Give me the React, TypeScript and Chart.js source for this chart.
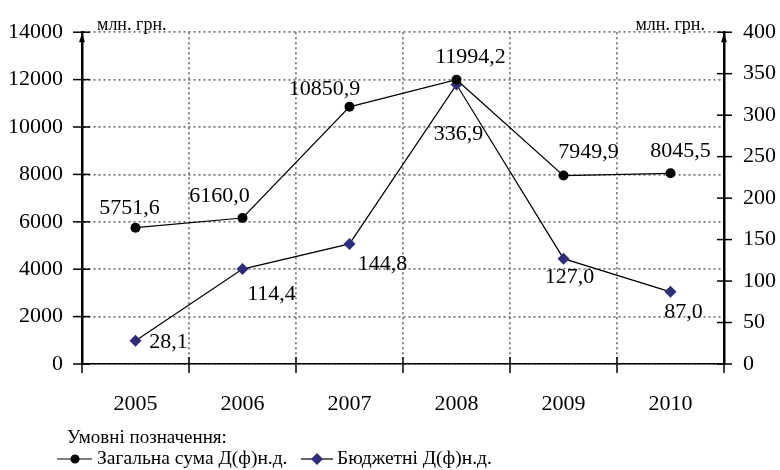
import React, { useEffect, useRef } from "react";
import { Chart, registerables } from "chart.js";

Chart.register(...registerables);

const years = ["2005", "2006", "2007", "2008", "2009", "2010"];
const totalValues = [5751.6, 6160.0, 10850.9, 11994.2, 7949.9, 8045.5];
const budgetValues = [28.1, 114.4, 144.8, 336.9, 127.0, 87.0];
const leftTicks = [0, 2000, 4000, 6000, 8000, 10000, 12000, 14000];
const rightTicks = [0, 50, 100, 150, 200, 250, 300, 350, 400];
const unitLabel = "млн. грн.";
const legendTitle = "Умовні позначення:";
const totalName = "Загальна сума Д(ф)н.д.";
const budgetName = "Бюджетні Д(ф)н.д.";

// label offsets (style): [dx, dy] relative to point
const totalLabelOffsets = [[-6, -19], [-23, -22], [-25, -18], [14, -23], [25, -23], [10, -22]];
const budgetLabelOffsets = [[33, 2], [29, 25], [33, 20], [2, 50], [6, 19], [13, 20]];

const SERIF = "'Liberation Serif', 'Times New Roman', serif";
const NAVY = "#2d2d7a";
const GRID = "#777777";
const fmt = (v: number) => v.toFixed(1).replace(".", ",");

export default function App() {
  const ref = useRef<HTMLCanvasElement | null>(null);
  useEffect(() => {
    const prevMargin = document.body.style.margin;
    document.body.style.margin = "0";
    const canvas = ref.current!;
    const overlay = {
      id: "overlay",
      afterDraw(chart: any) {
        const ctx = chart.ctx;
        const ca = chart.chartArea;
        const yL = chart.scales.y;
        const yR = chart.scales.y1;
        const x = chart.scales.x;
        ctx.save();
        ctx.strokeStyle = "#000";
        ctx.lineWidth = 1.5;
        leftTicks.forEach((t) => {
          const py = yL.getPixelForValue(t);
          ctx.beginPath();
          ctx.moveTo(ca.left - 9, py);
          ctx.lineTo(ca.left + 8, py);
          ctx.stroke();
        });
        rightTicks.forEach((t) => {
          const py = yR.getPixelForValue(t);
          ctx.beginPath();
          ctx.moveTo(ca.right - 7, py);
          ctx.lineTo(ca.right + 8, py);
          ctx.stroke();
        });
        const step = x.getPixelForValue(1) - x.getPixelForValue(0);
        for (let i = 0; i <= years.length; i++) {
          const px = x.getPixelForValue(0) - step / 2 + i * step;
          ctx.beginPath();
          ctx.moveTo(px, ca.bottom - 7);
          ctx.lineTo(px, ca.bottom + 9);
          ctx.stroke();
        }
        ctx.fillStyle = "#000";
        [ca.left, ca.right].forEach((ax) => {
          ctx.beginPath();
          ctx.moveTo(ax, ca.top + 1);
          ctx.lineTo(ax - 3, ca.top + 10);
          ctx.lineTo(ax + 3, ca.top + 10);
          ctx.closePath();
          ctx.fill();
        });
        ctx.font = `18px ${SERIF}`;
        ctx.textBaseline = "middle";
        ctx.textAlign = "left";
        ctx.fillText(unitLabel, ca.left + 15, ca.top - 7);
        ctx.textAlign = "right";
        ctx.fillText(unitLabel, ca.right - 19, ca.top - 7);
        ctx.font = `22px ${SERIF}`;
        ctx.textAlign = "center";
        const m0 = chart.getDatasetMeta(0);
        const m1 = chart.getDatasetMeta(1);
        totalValues.forEach((v, i) => {
          const p = m0.data[i];
          const o = totalLabelOffsets[i];
          ctx.fillText(fmt(v), p.x + o[0], p.y + o[1]);
        });
        budgetValues.forEach((v, i) => {
          const p = m1.data[i];
          const o = budgetLabelOffsets[i];
          ctx.fillText(fmt(v), p.x + o[0], p.y + o[1]);
        });
        ctx.textAlign = "left";
        ctx.font = `19px ${SERIF}`;
        ctx.fillText(legendTitle, 67, 438);
        const ly = 459;
        ctx.lineWidth = 1.2;
        ctx.beginPath();
        ctx.moveTo(57, ly);
        ctx.lineTo(92, ly);
        ctx.stroke();
        ctx.beginPath();
        ctx.arc(75, ly, 4.5, 0, Math.PI * 2);
        ctx.fill();
        ctx.font = `19.5px ${SERIF}`;
        ctx.fillText(totalName, 97, ly);
        ctx.beginPath();
        ctx.moveTo(301, ly);
        ctx.lineTo(333, ly);
        ctx.stroke();
        ctx.fillStyle = NAVY;
        ctx.beginPath();
        ctx.moveTo(317, ly - 6);
        ctx.lineTo(323, ly);
        ctx.lineTo(317, ly + 6);
        ctx.lineTo(311, ly);
        ctx.closePath();
        ctx.fill();
        ctx.fillStyle = "#000";
        ctx.fillText(budgetName, 337, ly);
        ctx.restore();
      },
    };
    const chart = new Chart(canvas, {
      type: "line",
      data: {
        labels: years,
        datasets: [
          {
            label: totalName,
            data: totalValues,
            yAxisID: "y",
            borderColor: "#000",
            borderWidth: 1.2,
            pointStyle: "circle",
            pointRadius: 5,
            pointBackgroundColor: "#000",
            pointBorderColor: "#000",
            pointBorderWidth: 0,
          },
          {
            label: budgetName,
            data: budgetValues,
            yAxisID: "y1",
            borderColor: "#000",
            borderWidth: 1.2,
            pointStyle: "rectRot",
            pointRadius: 6,
            pointBackgroundColor: NAVY,
            pointBorderColor: NAVY,
            pointBorderWidth: 0,
          },
        ],
      },
      options: {
        responsive: false,
        animation: false,
        layout: { padding: { top: 25, left: 0, right: 0, bottom: 0 } },
        plugins: { legend: { display: false }, tooltip: { enabled: false } },
        scales: {
          x: {
            offset: true,
            grid: { offset: true, color: GRID, lineWidth: 1.8, drawTicks: false },
            border: { display: true, color: "#000", width: 1.5, dash: [2, 3] },
            ticks: { color: "#000", font: { family: SERIF, size: 22 }, padding: 27 },
            afterFit: (s: any) => { s.height = 106; },
          },
          y: {
            position: "left",
            min: 0,
            max: 14000,
            afterBuildTicks: (s: any) => { s.ticks = leftTicks.map((v) => ({ value: v })); },
            grid: { color: GRID, lineWidth: 1.8, drawTicks: false },
            border: { display: true, color: "#000", width: 2.5, dash: [2, 3] },
            ticks: { color: "#000", font: { family: SERIF, size: 22 }, padding: 19, callback: (v: any) => String(v) },
            afterFit: (s: any) => { s.width = 82; },
          },
          y1: {
            position: "right",
            min: 0,
            max: 400,
            afterBuildTicks: (s: any) => { s.ticks = rightTicks.map((v) => ({ value: v })); },
            grid: { drawOnChartArea: false, drawTicks: false },
            border: { display: true, color: "#000", width: 2.5 },
            ticks: { color: "#000", font: { family: SERIF, size: 22 }, padding: 19, callback: (v: any) => String(v) },
            afterFit: (s: any) => { s.width = 56; },
          },
        },
      },
      plugins: [overlay],
    } as any);
    return () => {
      chart.destroy();
      document.body.style.margin = prevMargin;
    };
  }, []);
  return (
    <div style={{ position: "absolute", left: 0, top: 0, width: 780, height: 470 }}>
      <canvas ref={ref} width={780} height={470} style={{ width: 780, height: 470 }} />
    </div>
  );
}
